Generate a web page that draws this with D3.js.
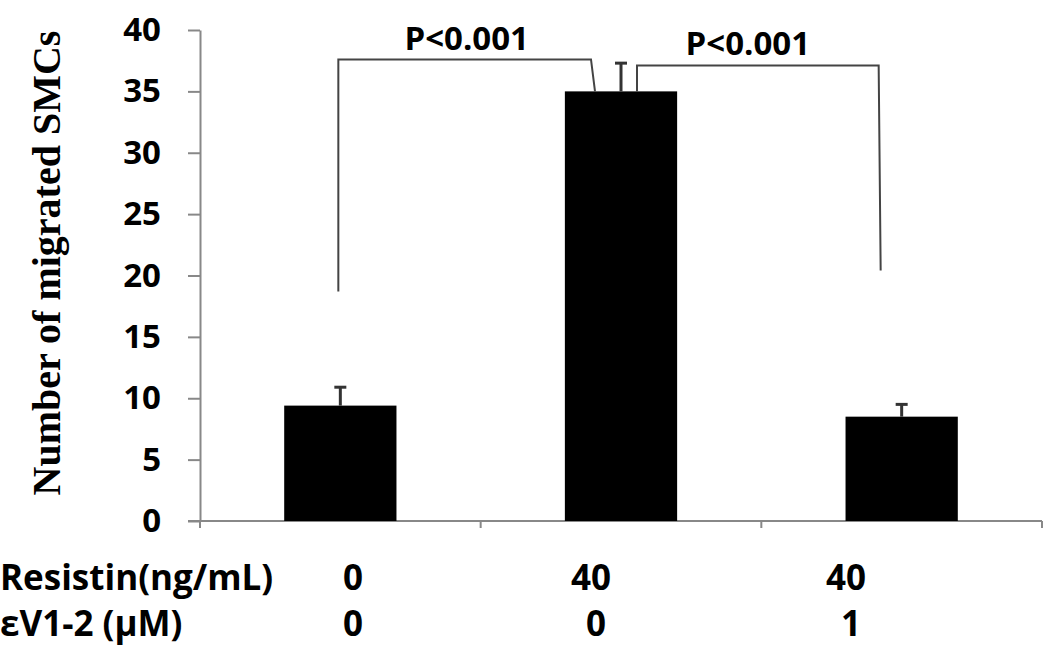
<!DOCTYPE html>
<html>
<head>
<meta charset="utf-8">
<script src="https://cdn.jsdelivr.net/npm/d3@7"></script>
<style>
  body { margin: 0; background: #fff; }
  text { font-family: "Open Sans", sans-serif; font-weight: 700; fill: #000; }
</style>
</head>
<body>
<svg id="chart"></svg>
<script>
// Data
const groups = ["ctrl", "resistin", "resistin+eV1-2"];
const means = [9.4, 35.0, 8.5];
const errors = [1.5, 2.3, 1.0];
const yTicks = [0, 5, 10, 15, 20, 25, 30, 35, 40];
const resistinRow = ["0", "40", "40"];
const ev12Row = ["0", "0", "1"];
const rowTitles = ["Resistin(ng/mL)", "\u03b5V1-2 (\u03bcM)"];
// significance brackets: from group, to group, start value, top value, end value
const brackets = [
    { from: 0, to: 1, start: 18.7, top: 37.6, end: 35.0, label: "P<0.001" },
    { from: 1, to: 2, start: 35.0, top: 37.1, end: 20.4, label: "P<0.001" }
];

// Set dimensions
const width = 1050;
const height = 653;
const margin = { top: 30, right: 8, bottom: 132, left: 200 };

const svg = d3.select("#chart")
    .attr("width", width)
    .attr("height", height);

// Scales
const x = d3.scaleBand()
    .domain(d3.range(groups.length))
    .range([margin.left, width - margin.right])
    .paddingInner(0.6)
    .paddingOuter(0.3);

const y = d3.scaleLinear()
    .domain([0, 40])
    .range([height - margin.bottom, margin.top]);

const cx = i => x(i) + x.bandwidth() / 2;

// Y axis
const yAxis = svg.append("g")
    .attr("transform", `translate(${margin.left},0)`)
    .call(d3.axisLeft(y).tickValues(yTicks).tickSize(12).tickSizeOuter(0).tickPadding(27));
yAxis.select(".domain").attr("stroke", "#888").attr("stroke-width", 2);
yAxis.selectAll(".tick line").attr("stroke", "#888").attr("stroke-width", 2);
yAxis.selectAll(".tick text")
    .attr("font-size", 33)
    .attr("font-family", "Open Sans")
    .attr("font-weight", 700)
    .attr("fill", "#000");

// X axis line with boundary ticks
const y0 = y(0);
svg.append("line")
    .attr("x1", margin.left - 12).attr("x2", width - margin.right)
    .attr("y1", y0).attr("y2", y0)
    .attr("stroke", "#888").attr("stroke-width", 2);
svg.selectAll(".xtick")
    .data(d3.range(groups.length + 1))
    .join("line")
    .attr("class", "xtick")
    .attr("x1", i => margin.left + i * x.step())
    .attr("x2", i => margin.left + i * x.step())
    .attr("y1", y0).attr("y2", y0 + 7)
    .attr("stroke", "#888").attr("stroke-width", 2);

// Bars
svg.selectAll(".bar")
    .data(means)
    .join("rect")
    .attr("class", "bar")
    .attr("x", (d, i) => x(i))
    .attr("width", x.bandwidth())
    .attr("y", d => y(d))
    .attr("height", d => y0 - y(d))
    .attr("fill", "#000");

// Error bars (upper only)
const eb = svg.selectAll(".err")
    .data(means)
    .join("g")
    .attr("class", "err");
eb.append("line")
    .attr("x1", (d, i) => cx(i)).attr("x2", (d, i) => cx(i))
    .attr("y1", d => y(d)).attr("y2", (d, i) => y(d + errors[i]))
    .attr("stroke", "#333").attr("stroke-width", 3);
eb.append("line")
    .attr("x1", (d, i) => cx(i) - 6).attr("x2", (d, i) => cx(i) + 6)
    .attr("y1", (d, i) => y(d + errors[i])).attr("y2", (d, i) => y(d + errors[i]))
    .attr("stroke", "#333").attr("stroke-width", 3);

// Significance brackets
const bracketOffsets = [[-2, -30], [16, -23]];
brackets.forEach((b, k) => {
    const xa = cx(b.from) + bracketOffsets[k][0];
    const xb = cx(b.to) + bracketOffsets[k][1];
    const p = d3.path();
    p.moveTo(xa, y(b.start));
    p.lineTo(xa, y(b.top));
    p.lineTo(xb, y(b.top));
    p.lineTo(xb + (k === 0 ? 4 : 2), y(b.end));
    svg.append("path")
        .attr("d", p.toString())
        .attr("fill", "none")
        .attr("stroke", "#444")
        .attr("stroke-width", 2);
    svg.append("text")
        .attr("x", (xa + xb) / 2 + (k === 0 ? 2 : -10))
        .attr("y", y(b.top) - 9 + (k === 0 ? 0 : -2))
        .attr("text-anchor", "middle")
        .attr("font-size", 33)
        .text(b.label);
});

// Y axis title
svg.append("text")
    .attr("transform", `translate(60,263) rotate(-90)`)
    .attr("text-anchor", "middle")
    .style("font-family", "'Liberation Serif', 'Times New Roman', serif")
    .attr("font-size", 40)
    .text("Number of migrated SMCs");

// Condition table below axis
const labelX = [353, 591, 846];
const rowY = [590, 636];
[resistinRow, ev12Row].forEach((row, r) => {
    svg.append("text")
        .attr("x", 0)
        .attr("y", rowY[r])
        .attr("font-size", 35)
        .text(rowTitles[r]);
    svg.selectAll(".row" + r)
        .data(row)
        .join("text")
        .attr("class", "row" + r)
        .attr("x", (d, i) => labelX[i] + (r === 1 && i > 0 ? 5 : 0))
        .attr("y", rowY[r])
        .attr("text-anchor", "middle")
        .attr("font-size", 35)
        .text(d => d);
});
</script>
</body>
</html>
